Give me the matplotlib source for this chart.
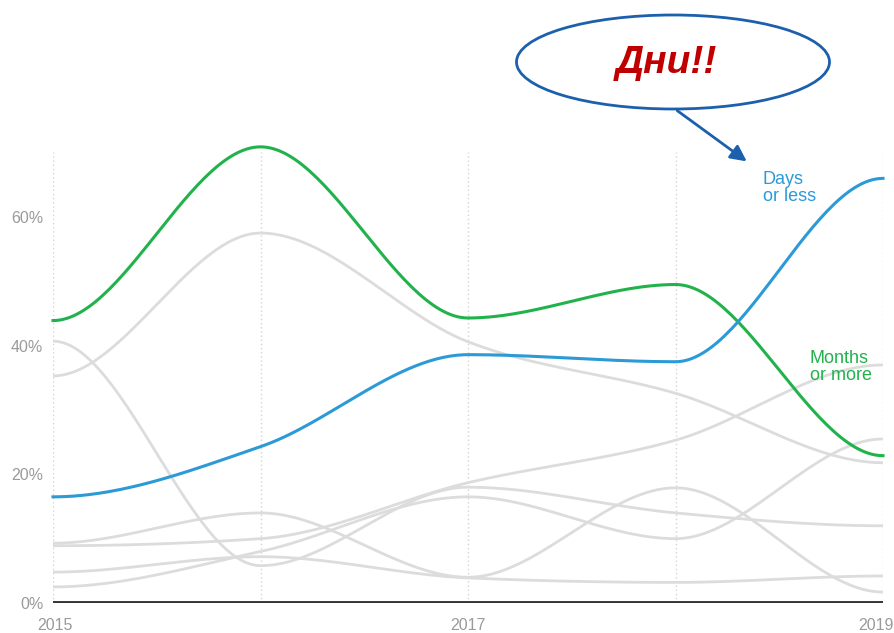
import numpy as np
import matplotlib
matplotlib.use("Agg")
import matplotlib.pyplot as plt
import matplotlib.transforms as mtrans
from matplotlib.patches import Ellipse, FancyArrowPatch

plt.rcParams['font.family'] = ['Liberation Sans', 'DejaVu Sans']

## data (share of respondents, %)
years = [2015, 2016, 2017, 2018, 2019]
days_or_less = [16.5, 24.3, 38.6, 37.5, 66.0]
months_or_more = [43.9, 70.9, 44.3, 49.5, 22.9]
other_series = [
    [35.3, 57.5, 40.6, 32.6, 21.8],
    [8.9, 10.0, 18.7, 25.3, 37.0],
    [40.7, 5.8, 18.0, 14.0, 12.0],
    [2.5, 8.0, 16.5, 10.0, 25.5],
    [4.8, 7.2, 3.9, 3.2, 4.2],
    [9.3, 14.0, 4.0, 17.9, 1.7],
]
y_ticks = [0, 20, 40, 60]
x_labels = [2015, 2017, 2019]

GREEN = "#22b24c"
BLUE = "#2b9ad6"
GREY = "#dcdcdc"
TXT = "#9a9a9a"


def monotone(xs, ys, n=60):
    # monotone cubic curve, flat at both ends
    x = np.asarray(xs, float)
    y = np.asarray(ys, float)
    h = np.diff(x)
    d = np.diff(y) / h
    m = np.zeros(len(x))
    for k in range(1, len(x) - 1):
        s0, s1 = d[k - 1], d[k]
        p = (s0 * h[k] + s1 * h[k - 1]) / (h[k - 1] + h[k])
        m[k] = (np.sign(s0) + np.sign(s1)) * min(abs(s0), abs(s1), 0.5 * abs(p))
    px, py = [], []
    for k in range(len(x) - 1):
        t = np.linspace(0, 1, n)
        h00 = 2 * t**3 - 3 * t**2 + 1
        h10 = t**3 - 2 * t**2 + t
        h01 = -2 * t**3 + 3 * t**2
        h11 = t**3 - t**2
        px.extend(x[k] + t * h[k])
        py.extend(h00 * y[k] + h10 * h[k] * m[k] + h01 * y[k + 1] + h11 * h[k] * m[k + 1])
    return np.array(px), np.array(py)


fig = plt.figure(figsize=(8.95, 6.33), dpi=100)
ax = fig.add_axes([53 / 895, 30 / 633, 830 / 895, 451 / 633])
ax.set_xlim(2015, 2019)
ax.set_ylim(0, 70.1)

for yr in years:
    ax.axvline(yr, color="#d4d4d4", lw=1, linestyle=(0, (1, 2)), zorder=0)

for s in other_series:
    cx, cy = monotone(years, s)
    ax.plot(cx, cy, color=GREY, lw=2, zorder=1, solid_capstyle="round")

cx, cy = monotone(years, months_or_more)
ax.plot(cx, cy, color=GREEN, lw=2.2, zorder=3, clip_on=False)
cx, cy = monotone(years, days_or_less)
ax.plot(cx, cy, color=BLUE, lw=2.2, zorder=3, clip_on=False)

ax.axhline(0, color="#333333", lw=2.8, zorder=4)

for sp in ax.spines.values():
    sp.set_visible(False)
ax.set_yticks(y_ticks)
ax.set_yticklabels([f"{v}%" for v in y_ticks])
ax.set_xticks([])
ax.tick_params(axis="y", length=0, pad=7, labelsize=11.5, labelcolor=TXT)

for yr in x_labels:
    shift = {2015: 2, 2017: 0, 2019: -7}[yr]
    tr = ax.get_xaxis_transform() + mtrans.ScaledTranslation(shift / 100, 0, fig.dpi_scale_trans)
    ax.text(yr, -0.033, str(yr), transform=tr, ha="center", va="top",
            fontsize=11.5, color=TXT)

ax.text(0.855, 0.957, "Days\nor less", transform=ax.transAxes, color=BLUE,
        fontsize=13, ha="left", va="top", linespacing=0.98)
ax.text(0.912, 0.56, "Months\nor more", transform=ax.transAxes, color=GREEN,
        fontsize=13, ha="left", va="top", linespacing=0.98)

# callout
ell = Ellipse((673 / 895, 1 - 62 / 633), 313 / 895, 94 / 633, transform=fig.transFigure,
              facecolor="white", edgecolor="#1c60ad", lw=2)
fig.add_artist(ell)
fig.text(666 / 895, 1 - 63 / 633, "Дни!!", color="#c00000", fontsize=28,
         fontweight="bold", fontstyle="italic", ha="center", va="center")
arr = FancyArrowPatch((675 / 895, 1 - 109 / 633), (749 / 895, 1 - 163 / 633),
                      transform=fig.transFigure, arrowstyle="-|>", mutation_scale=24,
                      color="#1c60ad", lw=2)
fig.add_artist(arr)

fig.savefig("out.png", dpi=100)
